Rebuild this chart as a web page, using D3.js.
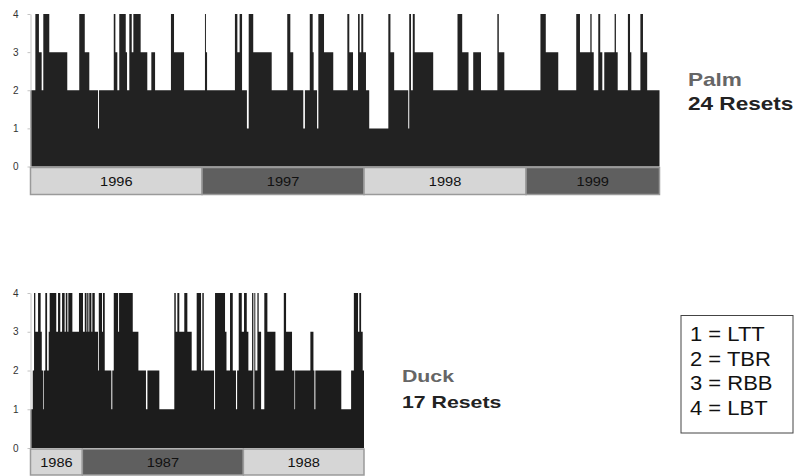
<!DOCTYPE html>
<html>
<head>
<meta charset="utf-8">
<script src="https://cdn.jsdelivr.net/npm/d3@7"></script>
<style>
  body { margin: 0; background: #fff; }
  svg { display: block; font-family: "Liberation Sans", Arial, sans-serif; }
</style>
</head>
<body>
<div id="chart"></div>
<script>
// beach state change points (decimal year) and the state that starts there
var palmDomain = [1995.941, 1999.824];
var palmTimes = [
  1995.941, 1995.971, 1995.993, 1996.010, 1996.020, 1996.057, 1996.168, 1996.242,
  1996.276, 1996.304, 1996.358, 1996.364, 1996.455, 1996.465, 1996.477, 1996.489,
  1996.529, 1996.537, 1996.551, 1996.566, 1996.576, 1996.621, 1996.662, 1996.687,
  1996.710, 1996.808, 1996.827, 1996.889, 1997.018, 1997.024, 1997.031, 1997.203,
  1997.218, 1997.232, 1997.247, 1997.277, 1997.288, 1997.316, 1997.430, 1997.526,
  1997.545, 1997.563, 1997.625, 1997.635, 1997.665, 1997.683, 1997.689, 1997.710,
  1997.718, 1997.753, 1997.810, 1997.897, 1997.909, 1997.932, 1997.963, 1997.973,
  1997.983, 1997.995, 1998.012, 1998.032, 1998.150, 1998.163, 1998.186, 1998.273,
  1998.279, 1998.290, 1998.301, 1998.313, 1998.427, 1998.577, 1998.606, 1998.645,
  1998.674, 1998.722, 1998.823, 1998.832, 1998.866, 1999.089, 1999.122, 1999.199,
  1999.310, 1999.333, 1999.397, 1999.405, 1999.418, 1999.446, 1999.458, 1999.471,
  1999.483, 1999.547, 1999.555, 1999.566, 1999.629, 1999.642, 1999.650, 1999.706,
  1999.722, 1999.748
];
var palmStates = [
  2, 4, 3, 2, 4, 3, 2, 4,
  3, 2, 1, 2, 4, 3, 2, 4,
  3, 2, 4, 3, 4, 3, 2, 3,
  2, 4, 3, 2, 4, 3, 2, 4,
  3, 4, 2, 1, 4, 3, 2, 4,
  3, 2, 1, 2, 4, 3, 2, 1,
  4, 3, 2, 4, 3, 2, 4, 3,
  4, 3, 2, 1, 4, 3, 2, 1,
  4, 2, 4, 3, 2, 4, 3, 2,
  3, 2, 4, 3, 2, 4, 3, 2,
  4, 3, 4, 3, 2, 4, 3, 2,
  3, 4, 3, 2, 4, 3, 2, 4,
  3, 2
];
var palmYears = ["1996", "1997", "1998", "1999"];
var palmYearEdges = [1995.941, 1997, 1998, 1999, 1999.824];

var duckDomain = [1986.678, 1988.749];
var duckTimes = [
  1986.678, 1986.692, 1986.700, 1986.708, 1986.725, 1986.741, 1986.748, 1986.756,
  1986.760, 1986.770, 1986.781, 1986.791, 1986.797, 1986.838, 1986.849, 1986.863,
  1986.874, 1986.890, 1986.897, 1986.907, 1986.913, 1986.938, 1986.979, 1987.004,
  1987.015, 1987.026, 1987.030, 1987.038, 1987.043, 1987.056, 1987.062, 1987.077,
  1987.097, 1987.102, 1987.122, 1987.128, 1987.139, 1987.180, 1987.186, 1987.195,
  1987.222, 1987.228, 1987.313, 1987.348, 1987.395, 1987.404, 1987.478, 1987.571,
  1987.580, 1987.590, 1987.602, 1987.633, 1987.652, 1987.679, 1987.710, 1987.737,
  1987.745, 1987.754, 1987.818, 1987.824, 1987.886, 1987.895, 1987.917, 1987.934,
  1987.954, 1987.961, 1987.971, 1987.990, 1988.004, 1988.021, 1988.031, 1988.054,
  1988.062, 1988.068, 1988.074, 1988.087, 1988.095, 1988.110, 1988.130, 1988.149,
  1988.199, 1988.251, 1988.265, 1988.302, 1988.317, 1988.321, 1988.416, 1988.435,
  1988.441, 1988.447, 1988.608, 1988.669, 1988.686, 1988.712, 1988.720, 1988.731,
  1988.741
];
var duckStates = [
  1, 2, 4, 3, 4, 3, 2, 1,
  2, 4, 2, 3, 4, 3, 4, 3,
  4, 3, 4, 3, 4, 3, 4, 3,
  4, 3, 4, 3, 4, 3, 4, 3,
  2, 4, 3, 4, 2, 1, 2, 4,
  3, 4, 3, 2, 1, 2, 1, 4,
  3, 4, 3, 4, 3, 2, 4, 2,
  4, 2, 1, 4, 3, 2, 4, 2,
  1, 2, 4, 3, 4, 3, 2, 4,
  1, 4, 2, 4, 3, 1, 4, 3,
  2, 4, 3, 2, 1, 2, 3, 2,
  1, 2, 1, 2, 4, 3, 4, 3,
  2
];
var duckYears = ["1986", "1987", "1988"];
var duckYearEdges = [1986.678, 1987, 1988, 1988.749];

var yTicks = [0, 1, 2, 3, 4];
var legendLines = ["1 = LTT", "2 = TBR", "3 = RBB", "4 = LBT"];

var W = 796, H = 476;
var svg = d3.select("#chart").append("svg")
    .attr("width", W)
    .attr("height", H);

function drawPanel(opt) {
    var x = d3.scaleLinear().domain(opt.domain).range([opt.left, opt.right]);
    var y = d3.scaleLinear().domain([0, 4]).range([opt.bottom, opt.top]);

    var pts = opt.times.map(function(t, i) { return [t, opt.states[i]]; });
    pts.push([opt.domain[1], opt.states[opt.states.length - 1]]);

    var area = d3.area()
        .curve(d3.curveStepAfter)
        .x(function(d) { return x(d[0]); })
        .y0(y(0))
        .y1(function(d) { return y(d[1]); });

    var g = svg.append("g");

    g.append("path")
        .datum(pts)
        .attr("d", area)
        .attr("fill", opt.fill);

    var axis = g.append("g")
        .attr("transform", "translate(" + opt.left + ",0)")
        .call(d3.axisLeft(y).tickValues(yTicks).tickFormat(d3.format("d"))
            .tickSize(3).tickSizeOuter(0).tickPadding(9));
    axis.select(".domain").attr("stroke", "#c4c4c4");
    axis.selectAll(".tick line").attr("stroke", "#c4c4c4");
    axis.selectAll(".tick text")
        .attr("fill", "#333")
        .style("font-size", "10px");

    // year strip under the plot
    var bands = opt.years.map(function(yr, i) {
        return { label: yr, a: opt.edges[i], b: opt.edges[i + 1], dark: i % 2 == opt.darkParity };
    });
    var band = g.selectAll(".band")
        .data(bands)
        .enter().append("g")
        .attr("class", "band");
    band.append("rect")
        .attr("x", function(d) { return x(d.a); })
        .attr("y", opt.bottom + 1)
        .attr("width", function(d) { return x(d.b) - x(d.a); })
        .attr("height", opt.bandH)
        .attr("fill", function(d) { return d.dark ? "#5f5f5f" : "#d6d6d6"; })
        .attr("stroke", "#9a9a9a")
        .attr("stroke-width", 1.5);
    band.append("text")
        .attr("transform", function(d) {
            return "translate(" + ((x(d.a) + x(d.b)) / 2) + "," + (opt.bottom + 1 + opt.bandH / 2 + 5) + ") scale(1.08,1)";
        })
        .attr("text-anchor", "middle")
        .attr("fill", "#111")
        .style("font-size", "13.5px")
        .text(function(d) { return d.label; });
}

drawPanel({
    domain: palmDomain, times: palmTimes, states: palmStates,
    years: palmYears, edges: palmYearEdges, darkParity: 1,
    left: 30.5, right: 659.5, top: 14, bottom: 166.5, bandH: 27, fill: "#222"
});

drawPanel({
    domain: duckDomain, times: duckTimes, states: duckStates,
    years: duckYears, edges: duckYearEdges, darkParity: 1,
    left: 30.5, right: 364, top: 293, bottom: 448, bandH: 26, fill: "#1c1c1c"
});

function label(txt, x, y, size, color, sx, weight) {
    svg.append("text")
        .attr("transform", "translate(" + x + "," + y + ") scale(" + sx + ",1)")
        .attr("fill", color)
        .style("font-size", size + "px")
        .style("font-weight", weight)
        .text(txt);
}

label("Palm", 688, 86, 17.5, "#666", 1.29, "bold");
label("24 Resets", 688, 110, 17.5, "#222", 1.29, "bold");
label("Duck", 402, 382, 16.5, "#666", 1.29, "bold");
label("17 Resets", 402, 408, 16.5, "#222", 1.29, "bold");

svg.append("rect")
    .attr("x", 681)
    .attr("y", 315.5)
    .attr("width", 112)
    .attr("height", 117.5)
    .attr("fill", "#fff")
    .attr("stroke", "#444")
    .attr("stroke-width", 1);

legendLines.forEach(function(t, i) {
    label(t, 690, 341 + i * 24.7, 20, "#111", 1.1, "normal");
});
</script>
</body>
</html>
